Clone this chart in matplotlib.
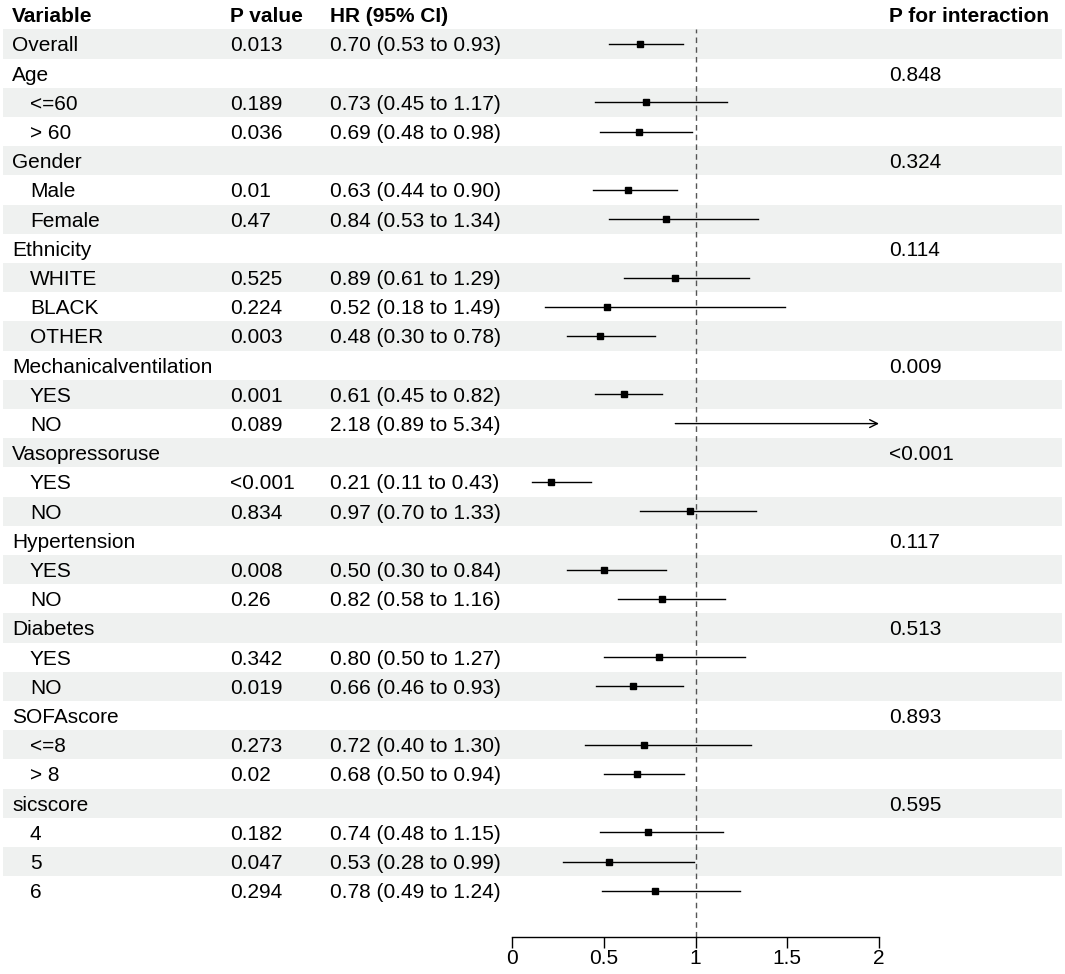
import numpy as np
import matplotlib
matplotlib.use("Agg")
import matplotlib.pyplot as plt

plt.rcParams['font.family'] = ['Liberation Sans', 'DejaVu Sans']

# rows of the forest plot (group headers have no estimate)
labels = ["Overall",
          "Age", "<=60", "> 60",
          "Gender", "Male", "Female",
          "Ethnicity", "WHITE", "BLACK", "OTHER",
          "Mechanicalventilation", "YES", "NO",
          "Vasopressoruse", "YES", "NO",
          "Hypertension", "YES", "NO",
          "Diabetes", "YES", "NO",
          "SOFAscore", "<=8", "> 8",
          "sicscore", "4", "5", "6"]
is_sub = [False,
          False, True, True,
          False, True, True,
          False, True, True, True,
          False, True, True,
          False, True, True,
          False, True, True,
          False, True, True,
          False, True, True,
          False, True, True, True]
p_value = ["0.013",
           "", "0.189", "0.036",
           "", "0.01", "0.47",
           "", "0.525", "0.224", "0.003",
           "", "0.001", "0.089",
           "", "<0.001", "0.834",
           "", "0.008", "0.26",
           "", "0.342", "0.019",
           "", "0.273", "0.02",
           "", "0.182", "0.047", "0.294"]
hr = [0.70,
      np.nan, 0.73, 0.69,
      np.nan, 0.63, 0.84,
      np.nan, 0.89, 0.52, 0.48,
      np.nan, 0.61, 2.18,
      np.nan, 0.21, 0.97,
      np.nan, 0.50, 0.82,
      np.nan, 0.80, 0.66,
      np.nan, 0.72, 0.68,
      np.nan, 0.74, 0.53, 0.78]
lower = [0.53,
         np.nan, 0.45, 0.48,
         np.nan, 0.44, 0.53,
         np.nan, 0.61, 0.18, 0.30,
         np.nan, 0.45, 0.89,
         np.nan, 0.11, 0.70,
         np.nan, 0.30, 0.58,
         np.nan, 0.50, 0.46,
         np.nan, 0.40, 0.50,
         np.nan, 0.48, 0.28, 0.49]
upper = [0.93,
         np.nan, 1.17, 0.98,
         np.nan, 0.90, 1.34,
         np.nan, 1.29, 1.49, 0.78,
         np.nan, 0.82, 5.34,
         np.nan, 0.43, 1.33,
         np.nan, 0.84, 1.16,
         np.nan, 1.27, 0.93,
         np.nan, 1.30, 0.94,
         np.nan, 1.15, 0.99, 1.24]
p_interaction = ["",
                 "0.848", "", "",
                 "0.324", "", "",
                 "0.114", "", "", "",
                 "0.009", "", "",
                 "<0.001", "", "",
                 "0.117", "", "",
                 "0.513", "", "",
                 "0.893", "", "",
                 "0.595", "", "", ""]
xticks = [0, 0.5, 1, 1.5, 2]
headers = ["Variable", "P value", "HR (95% CI)", "P for interaction"]

W, H = 1065, 974
fig = plt.figure(figsize=(W / 100, H / 100), dpi=100)

rows = np.arange(1, len(labels) + 1)
y_top, y_bot = 29.4, 937.0
ylim = (0.5 + (y_bot - y_top) / 29.2, 0.5)
ax_rect_y = [1 - y_bot / H, (y_bot - y_top) / H]

# background axes: full width, x in pixels, same rows as the forest panel
bg = fig.add_axes([0, ax_rect_y[0], 1, ax_rect_y[1]])
bg.set_xlim(0, W)
bg.set_ylim(*ylim)
bg.axis("off")

# forest panel
ax = fig.add_axes([512 / W, ax_rect_y[0], (879 - 512) / W, ax_rect_y[1]])
ax.set_facecolor("none")
ax.set_xlim(0, 2)
ax.set_ylim(*ylim)

fs = 15
va = "center_baseline"
for i, r in enumerate(rows):
    if r % 2 == 1:
        bg.axhspan(r - 0.5, r + 0.5, xmin=3 / W, xmax=1062 / W,
                   color="#EFF1F0", lw=0, zorder=0)
    bg.text(30 if is_sub[i] else 12, r, labels[i], fontsize=fs, va=va)
    bg.text(230, r, p_value[i], fontsize=fs, va=va)
    if not np.isnan(hr[i]):
        bg.text(330, r, f"{hr[i]:.2f} ({lower[i]:.2f} to {upper[i]:.2f})",
                fontsize=fs, va=va)
    bg.text(889, r, p_interaction[i], fontsize=fs, va=va)

# header row
for x, h in zip([12, 230, 330, 889], headers):
    bg.text(x, -0.02, h, fontsize=fs, va=va, fontweight="bold", clip_on=False)

# reference line
ax.axvline(1, color="#555555", ls=(0, (4, 3)), lw=1, zorder=1)

xmax = ax.get_xlim()[1]
for i, r in enumerate(rows):
    if np.isnan(hr[i]):
        continue
    if upper[i] > xmax:
        ax.annotate("", xy=(xmax, r), xytext=(lower[i], r),
                    arrowprops=dict(arrowstyle="->", lw=1.0, color="black",
                                    shrinkA=0, shrinkB=0,
                                    mutation_scale=14))
    else:
        ax.plot([lower[i], upper[i]], [r, r], color="black", lw=1.0, zorder=2)
    if hr[i] <= xmax:
        ax.plot(hr[i], r, marker="s", color="black", markersize=5, zorder=3)

for s in ["top", "right", "left"]:
    ax.spines[s].set_visible(False)
ax.spines["bottom"].set_linewidth(1)
ax.set_yticks([])
ax.set_xticks(xticks)
ax.set_xticklabels([f"{t:g}" for t in xticks])
ax.tick_params(axis="x", length=8, width=1, labelsize=fs, pad=1)

fig.savefig("out.png", dpi=100)
